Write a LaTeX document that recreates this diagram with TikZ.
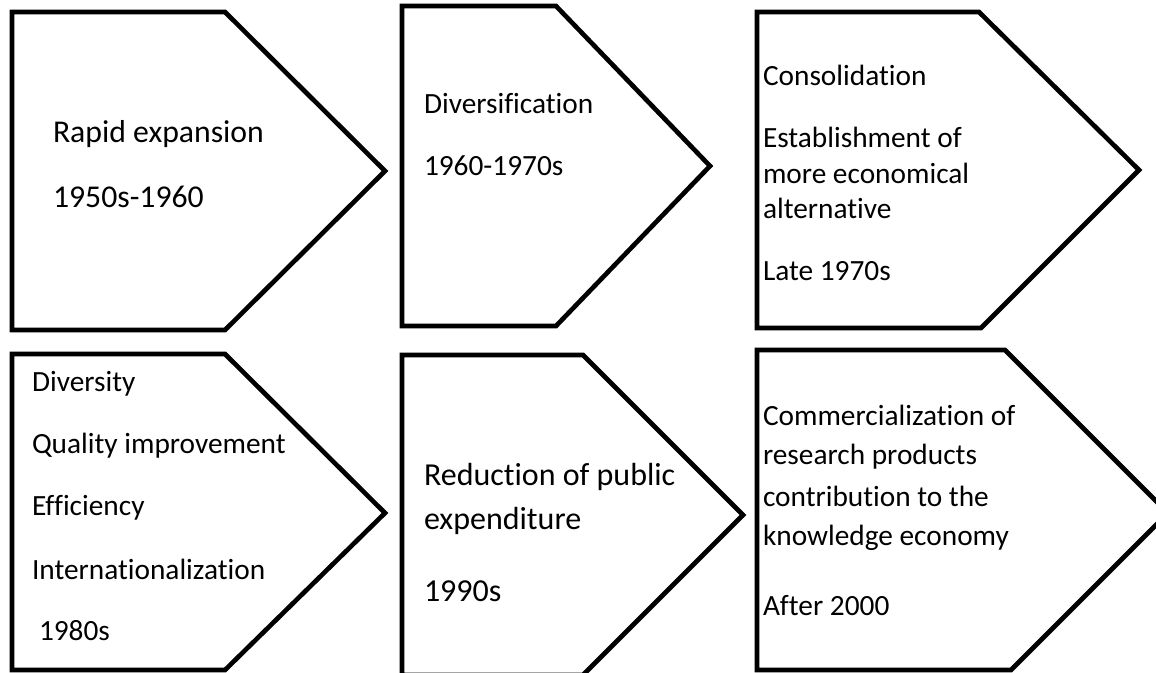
\documentclass[tikz,border=0pt]{standalone}
\usepackage{fontspec}
\setmainfont{Carlito}[Ligatures=NoCommon]
\begin{document}
\begin{tikzpicture}[x=0.75pt,y=-0.75pt,
  arrowbox/.style={draw=black,line width=3.5pt,line join=miter,fill=white},
  txt/.style={anchor=base west,inner sep=0pt,outer sep=0pt},
  fa/.style={font=\fontsize{23.8}{28}\selectfont},
  fb/.style={font=\fontsize{22}{26}\selectfont},
  fc/.style={font=\fontsize{24}{28}\selectfont},
  fd/.style={font=\fontsize{22}{26}\selectfont}]
\useasboundingbox (0,0) rectangle (1156,672);
\clip (0,0) rectangle (1156,672);
% shapes
\draw[arrowbox] (12,12) -- (225,12) -- (385,171) -- (225,330) -- (12,330) -- cycle;
\draw[arrowbox] (402,6) -- (556,6) -- (710,166) -- (556,326) -- (402,326) -- cycle;
\draw[arrowbox] (757,12) -- (979,12) -- (1139,170) -- (981,328) -- (757,328) -- cycle;
\draw[arrowbox] (12,354) -- (225,354) -- (385,513) -- (225,670) -- (12,670) -- cycle;
\draw[arrowbox] (402,355) -- (583,355) -- (743,515) -- (583,675) -- (402,675) -- cycle;
\draw[arrowbox] (757,350) -- (1005,350) -- (1168,513) -- (1011,670) -- (757,670) -- cycle;
% texts
\node[txt,fa] (t1a) at (53,142) {Rapid expansion};
\node[txt,fa] (t1b) at (53,207) {1950s-1960};
\node[txt,fb] (t2a) at (424,113) {Diversification};
\node[txt,fb] (t2b) at (424,175) {1960-1970s};
\node[txt,fb] (t3a) at (763,85) {Consolidation};
\node[txt,fb] (t3b) at (763,147) {Establishment of};
\node[txt,fb] (t3c) at (763,183) {more economical};
\node[txt,fb] (t3d) at (763,218) {alternative};
\node[txt,fb] (t3e) at (763,280) {Late 1970s};
\node[txt,fb] (t4a) at (32,391) {Diversity};
\node[txt,fb] (t4b) at (32,453) {Quality improvement};
\node[txt,fb] (t4c) at (32,515) {Efficiency};
\node[txt,fb] (t4d) at (32,579) {Internationalization};
\node[txt,fb] (t4e) at (39,640) {1980s};
\node[txt,fc] (t5a) at (424,485) {Reduction of public};
\node[txt,fc] (t5b) at (424,529) {expenditure};
\node[txt,fc] (t5c) at (424,601) {1990s};
\node[txt,fd] (t6a) at (763,425) {Commercialization of};
\node[txt,fd] (t6b) at (763,464) {research products};
\node[txt,fd] (t6c) at (763,506) {contribution to the};
\node[txt,fd] (t6d) at (763,545) {knowledge economy};
\node[txt,fd] (t6e) at (763,615) {After 2000};
\end{tikzpicture}
\end{document}
